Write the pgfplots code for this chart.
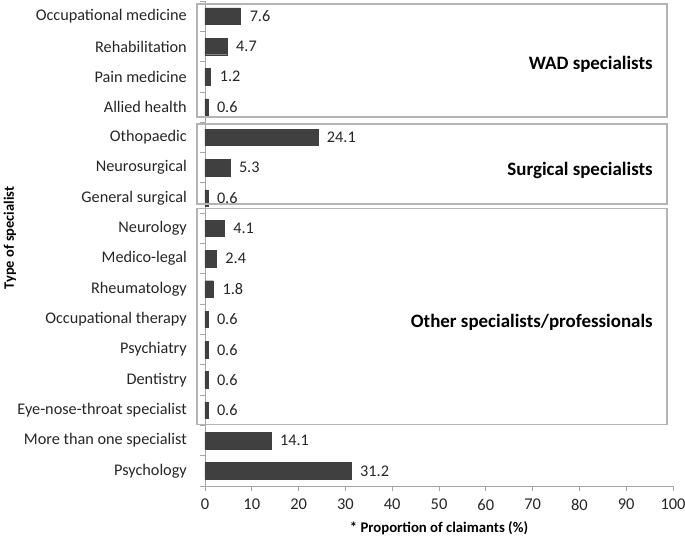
\documentclass[border=0pt]{standalone}
\usepackage{pgfplots}
\pgfplotsset{compat=1.18}
\usepackage{fontspec}
\setmainfont{Carlito}
\usetikzlibrary{calc}
\definecolor{txt}{HTML}{262626}
\definecolor{barc}{HTML}{404040}
\definecolor{boxc}{HTML}{B4B4B4}
\definecolor{axc}{HTML}{A6A6A6}
\begin{document}
\begin{tikzpicture}
\begin{axis}[name=ax, scale only axis, width=468bp, height=485bp,
  clip=false,
  xbar, bar width=16.5bp,
  xmin=0, xmax=100, ymin=-0.5, ymax=15.5,
  xtick={0,10,...,100},
  ytick={0,...,15},
  yticklabels={Psychology, More than one specialist, Eye-nose-throat specialist, Dentistry, Psychiatry, Occupational therapy, Rheumatology, Medico-legal, Neurology, General surgical, Neurosurgical, Othopaedic, Allied health, Pain medicine, Rehabilitation, Occupational medicine},
  minor ytick={-0.5,0.5,...,15.5},
  axis x line*=bottom, axis y line*=left,
  axis line style={axc, line width=0.8bp},
  tick align=outside,
  major tick length=5bp, minor tick length=5bp,
  major y tick style={draw=none},
  major x tick style={axc, line width=0.8bp},
  minor y tick style={axc, line width=0.8bp},
  yticklabel style={font=\fontsize{16.3}{16.3}\selectfont, text=txt, inner sep=0pt, xshift=-13bp},
  xticklabel style={font=\fontsize{16.5}{16.5}\selectfont, text=txt, inner sep=0pt, yshift=-8bp},
  /pgf/number format/assume math mode=true,
  xlabel={* Proportion of claimants (\%)},
  xlabel style={at={(rel axis cs:0.5,0)}, anchor=center, yshift=-42bp, font=\bfseries\fontsize{14.8}{14.8}\selectfont, text=black},
  nodes near coords,
  nodes near coords style={font=\fontsize{16.3}{16.3}\selectfont, text=txt, inner sep=0pt, xshift=9bp,
    /pgf/number format/.cd, fixed, precision=1, fixed zerofill, assume math mode=true},
]
\addplot[fill=barc, draw=barc] coordinates {(31.2,0) (14.1,1) (0.6,2) (0.6,3) (0.6,4) (0.6,5) (1.8,6) (2.4,7) (4.1,8) (0.6,9) (5.3,10) (24.1,11) (0.6,12) (1.2,13) (4.7,14) (7.6,15)};
\draw[boxc, line width=1.2bp] (axis cs:-1.7,15.4) rectangle (axis cs:98.7,11.67);
\draw[boxc, line width=1.2bp] (axis cs:-1.7,11.44) rectangle (axis cs:98.7,8.8);
\draw[boxc, line width=1.2bp] (axis cs:-1.7,8.66) rectangle (axis cs:98.7,1.54);
\node[anchor=east, inner sep=0pt, text=black, font=\bfseries\fontsize{19}{19}\selectfont] at (axis cs:95.7,13.4) {WAD specialists};
\node[anchor=east, inner sep=0pt, text=black, font=\bfseries\fontsize{19}{19}\selectfont] at (axis cs:95.7,9.92) {Surgical specialists};
\node[anchor=east, inner sep=0pt, text=black, font=\bfseries\fontsize{19}{19}\selectfont] at (axis cs:95.7,4.9) {Other specialists/professionals};
\end{axis}
\node[rotate=90, inner sep=0pt, text=black, font=\bfseries\fontsize{14.5}{14.5}\selectfont] at ($(ax.south west)+(-195bp,248bp)$) {Type of specialist};
\pgfresetboundingbox
\path[use as bounding box] ($(ax.south west)+(-205bp,-53bp)$) rectangle ($(ax.south west)+(480bp,486bp)$);
\end{tikzpicture}
\end{document}
